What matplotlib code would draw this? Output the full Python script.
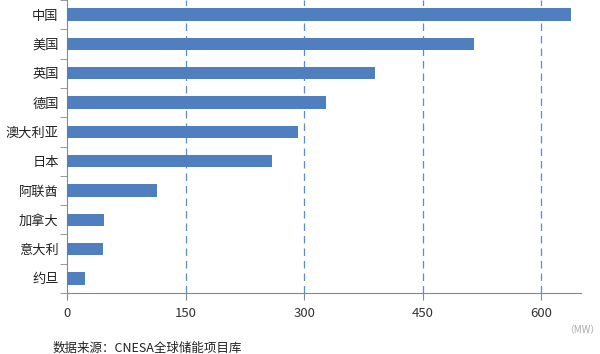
import matplotlib
matplotlib.use("Agg")
import matplotlib.pyplot as plt
import numpy as np

plt.rcParams['font.family'] = ['Noto Sans CJK SC', 'DejaVu Sans']

countries = ["中国", "美国", "英国", "德国", "澳大利亚", "日本", "阿联酋", "加拿大", "意大利", "约旦"]
values = [637, 515, 389, 327, 292, 259, 114, 47, 45, 23]
xticks = [0, 150, 300, 450, 600]

fig = plt.figure(figsize=(6.0, 3.54), dpi=100)
ax = fig.add_axes([67/600, 1 - 293/354, (581-67)/600, 293/354])

n = len(countries)
y = np.arange(n)[::-1]
ax.barh(y, values, height=0.42, color="#4F7FBE", zorder=3)

ax.set_xlim(0, 650)
ax.set_ylim(-0.5, n - 0.5)
ax.set_xticks(xticks)
ax.set_xticklabels([str(t) for t in xticks], fontsize=9.5, color="#333333")
ax.set_yticks(y)
ax.set_yticklabels(countries, fontsize=9.5, color="#222222")
ax.tick_params(axis='y', length=0, pad=6)
ax.set_yticks(np.arange(-0.5, n, 1.0), minor=True)
ax.tick_params(axis='y', which='minor', length=5, color="#888888", direction='out')
ax.tick_params(axis='x', length=5, color="#888888", direction='out', pad=5)

for t in xticks[1:]:
    ax.axvline(t, color="#5B8BD0", linestyle=(0, (6, 4)), linewidth=0.9, zorder=1)

for s in ["top", "right"]:
    ax.spines[s].set_visible(False)
ax.spines["left"].set_color("#888888")
ax.spines["bottom"].set_color("#888888")

fig.text(53/600, 1 - 348/354, "数据来源：CNESA全球储能项目库", fontsize=9, color="#222222", va='center', ha='left')
fig.text(582/600, 1 - 330/354, "（MW）", fontsize=7, color="#aaaaaa", va='center', ha='center')

fig.savefig("out.png", dpi=100)
